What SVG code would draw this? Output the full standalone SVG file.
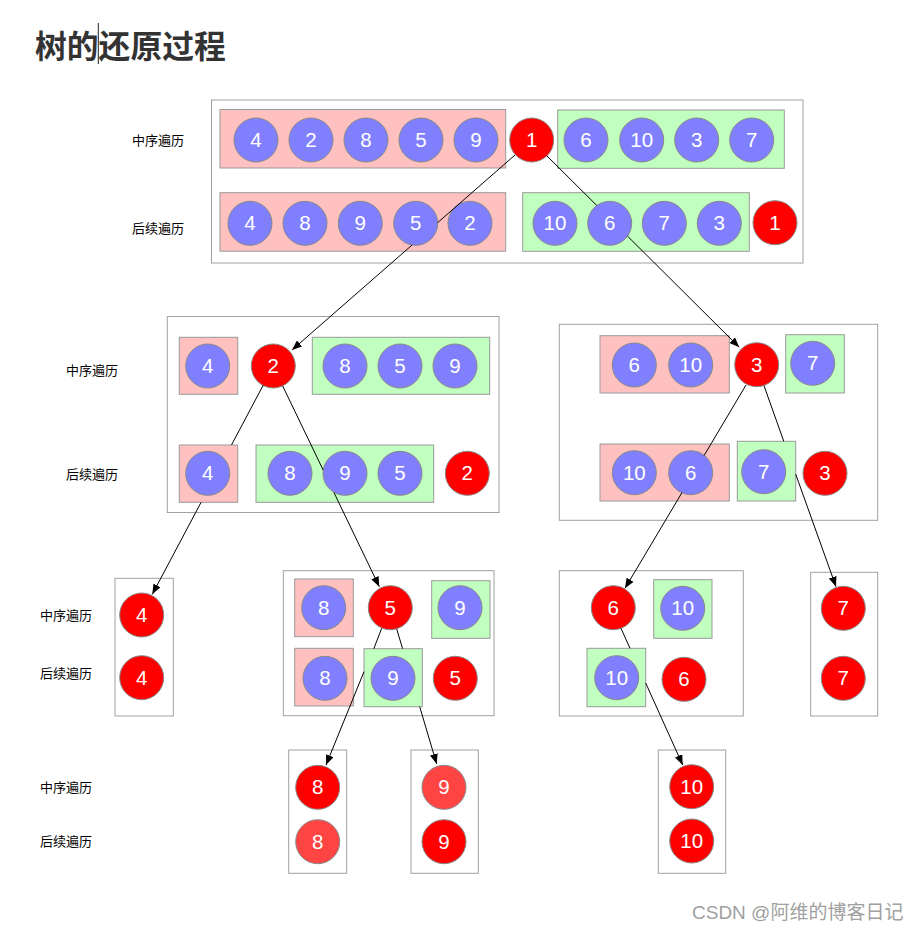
<svg xmlns="http://www.w3.org/2000/svg" width="919" height="933" viewBox="0 0 919 933">
<style>
.box{fill:none;stroke:#a0a0a0;stroke-width:1}
.pk{fill:#ffc0c0;stroke:#999;stroke-width:1}
.gr{fill:#c0ffc0;stroke:#999;stroke-width:1}
.cp{fill:#8080ff;stroke:#888;stroke-width:1}
.cr{fill:#ff0000;stroke:#888;stroke-width:1}
.cl{fill:#ff4444;stroke:#888;stroke-width:1}
.n{font-family:"Liberation Sans",Arial,sans-serif;font-size:20.5px;fill:#fff;text-anchor:middle}
.lb{font-family:"Noto Sans CJK SC","Noto Sans",sans-serif;font-size:13px;fill:#000}
.cn{fill:none;stroke:#000;stroke-width:1}
</style>
<defs>
<marker id="ah" markerUnits="userSpaceOnUse" markerWidth="10" markerHeight="8" refX="10" refY="4" orient="auto">
<path d="M0,0 L10,4 L0,8 z" fill="#000"/>
</marker>
</defs>
<rect width="919" height="933" fill="#fff"/>
<g id="title">
<text x="35" y="57.5" font-family="'Noto Sans CJK SC',sans-serif" font-size="31.8" font-weight="bold" fill="#333">树的还原过程</text>
<line x1="98.3" y1="23" x2="98.3" y2="64" stroke="#222" stroke-width="1"/>
</g>
<g id="labels">
<text class="lb" x="132" y="145">中序遍历</text>
<text class="lb" x="132" y="233">后续遍历</text>
<text class="lb" x="66" y="375">中序遍历</text>
<text class="lb" x="66" y="479">后续遍历</text>
<text class="lb" x="40" y="620">中序遍历</text>
<text class="lb" x="40" y="678">后续遍历</text>
<text class="lb" x="40" y="792">中序遍历</text>
<text class="lb" x="40" y="846">后续遍历</text>
</g>
<g id="node1">
<rect class="box" x="211.5" y="100" width="591.5" height="163"/>
<rect class="pk" x="220" y="109.5" width="285.7" height="58.5"/>
<rect class="gr" x="557.7" y="110" width="226.6" height="58.3"/>
<rect class="pk" x="220" y="192.7" width="285.7" height="58.5"/>
<rect class="gr" x="522.7" y="192.7" width="226.6" height="58.6"/>
<circle class="cp" cx="256" cy="140" r="22"/><text class="n" x="256" y="147">4</text>
<circle class="cp" cx="311" cy="140" r="22"/><text class="n" x="311" y="147">2</text>
<circle class="cp" cx="366" cy="140" r="22"/><text class="n" x="366" y="147">8</text>
<circle class="cp" cx="421" cy="140" r="22"/><text class="n" x="421" y="147">5</text>
<circle class="cp" cx="476" cy="140" r="22"/><text class="n" x="476" y="147">9</text>
<circle class="cr" cx="531.7" cy="140" r="22"/><text class="n" x="531.7" y="147">1</text>
<circle class="cp" cx="586" cy="140" r="22"/><text class="n" x="586" y="147">6</text>
<circle class="cp" cx="641.7" cy="140" r="22"/><text class="n" x="641.7" y="147">10</text>
<circle class="cp" cx="696.7" cy="140" r="22"/><text class="n" x="696.7" y="147">3</text>
<circle class="cp" cx="751.7" cy="140" r="22"/><text class="n" x="751.7" y="147">7</text>
<circle class="cp" cx="250" cy="223.3" r="22"/><text class="n" x="250" y="230.3">4</text>
<circle class="cp" cx="305" cy="223.3" r="22"/><text class="n" x="305" y="230.3">8</text>
<circle class="cp" cx="360.3" cy="223.3" r="22"/><text class="n" x="360.3" y="230.3">9</text>
<circle class="cp" cx="415.7" cy="223.3" r="22"/><text class="n" x="415.7" y="230.3">5</text>
<circle class="cp" cx="470" cy="223.3" r="22"/><text class="n" x="470" y="230.3">2</text>
<circle class="cp" cx="555" cy="223.3" r="22"/><text class="n" x="555" y="230.3">10</text>
<circle class="cp" cx="609.7" cy="223.3" r="22"/><text class="n" x="609.7" y="230.3">6</text>
<circle class="cp" cx="664.3" cy="223.3" r="22"/><text class="n" x="664.3" y="230.3">7</text>
<circle class="cp" cx="719.3" cy="223.3" r="22"/><text class="n" x="719.3" y="230.3">3</text>
<circle class="cr" cx="775" cy="222.7" r="22"/><text class="n" x="775" y="229.7">1</text>
</g>
<g id="node2">
<rect class="box" x="167.3" y="316.5" width="331.7" height="196"/>
<rect class="pk" x="179.3" y="337.3" width="58.4" height="57"/>
<rect class="gr" x="312.3" y="337.3" width="177.4" height="57"/>
<rect class="pk" x="179.3" y="445" width="58.4" height="57.3"/>
<rect class="gr" x="256" y="445" width="177.7" height="57.3"/>
<circle class="cp" cx="207.7" cy="366" r="22"/><text class="n" x="207.7" y="373">4</text>
<circle class="cr" cx="273.3" cy="366" r="22"/><text class="n" x="273.3" y="373">2</text>
<circle class="cp" cx="345" cy="366" r="22"/><text class="n" x="345" y="373">8</text>
<circle class="cp" cx="400" cy="366" r="22"/><text class="n" x="400" y="373">5</text>
<circle class="cp" cx="455" cy="366" r="22"/><text class="n" x="455" y="373">9</text>
<circle class="cp" cx="207.7" cy="473.3" r="22"/><text class="n" x="207.7" y="480.3">4</text>
<circle class="cp" cx="290" cy="473.3" r="22"/><text class="n" x="290" y="480.3">8</text>
<circle class="cp" cx="345" cy="473.3" r="22"/><text class="n" x="345" y="480.3">9</text>
<circle class="cp" cx="400" cy="473.3" r="22"/><text class="n" x="400" y="480.3">5</text>
<circle class="cr" cx="467.3" cy="473.3" r="22"/><text class="n" x="467.3" y="480.3">2</text>
</g>
<g id="node3">
<rect class="box" x="559.3" y="324.3" width="318.4" height="196"/>
<rect class="pk" x="600" y="335.7" width="129.3" height="57.3"/>
<rect class="gr" x="785.7" y="334.7" width="58.6" height="58.3"/>
<rect class="pk" x="600" y="444" width="129.3" height="57"/>
<rect class="gr" x="737.3" y="441.3" width="58.4" height="59.7"/>
<circle class="cp" cx="634.3" cy="365" r="22"/><text class="n" x="634.3" y="372">6</text>
<circle class="cp" cx="690.7" cy="365" r="22"/><text class="n" x="690.7" y="372">10</text>
<circle class="cr" cx="756.7" cy="364.7" r="22"/><text class="n" x="756.7" y="371.7">3</text>
<circle class="cp" cx="812.7" cy="363.3" r="22"/><text class="n" x="812.7" y="370.3">7</text>
<circle class="cp" cx="634.3" cy="472.7" r="22"/><text class="n" x="634.3" y="479.7">10</text>
<circle class="cp" cx="690.7" cy="472.7" r="22"/><text class="n" x="690.7" y="479.7">6</text>
<circle class="cp" cx="763.7" cy="471.7" r="22"/><text class="n" x="763.7" y="478.7">7</text>
<circle class="cr" cx="825" cy="473.3" r="22"/><text class="n" x="825" y="480.3">3</text>
</g>
<g id="node4">
<rect class="box" x="115" y="578.3" width="58.3" height="137.7"/>
<circle class="cr" cx="141.7" cy="615" r="22"/><text class="n" x="141.7" y="622">4</text>
<circle class="cr" cx="141.7" cy="677.7" r="22"/><text class="n" x="141.7" y="684.7">4</text>
</g>
<g id="node5">
<rect class="box" x="283.3" y="570.7" width="210.7" height="145"/>
<rect class="pk" x="294.7" y="579" width="58.6" height="57.7"/>
<rect class="gr" x="431.7" y="580.7" width="58.3" height="57.6"/>
<rect class="pk" x="294.7" y="648.3" width="58.6" height="57.7"/>
<rect class="gr" x="364" y="648.7" width="58.3" height="58"/>
<circle class="cp" cx="323.7" cy="607.7" r="22"/><text class="n" x="323.7" y="614.7">8</text>
<circle class="cr" cx="390.3" cy="607.7" r="22"/><text class="n" x="390.3" y="614.7">5</text>
<circle class="cp" cx="460" cy="607.7" r="22"/><text class="n" x="460" y="614.7">9</text>
<circle class="cp" cx="325" cy="678.3" r="22"/><text class="n" x="325" y="685.3">8</text>
<circle class="cp" cx="393" cy="678.3" r="22"/><text class="n" x="393" y="685.3">9</text>
<circle class="cr" cx="455.3" cy="678.3" r="22"/><text class="n" x="455.3" y="685.3">5</text>
</g>
<g id="node6">
<rect class="box" x="559.3" y="570.7" width="184" height="145.3"/>
<rect class="gr" x="653.7" y="579.7" width="58.3" height="58.6"/>
<rect class="gr" x="587" y="648.3" width="58.7" height="58.4"/>
<circle class="cr" cx="613.3" cy="607.7" r="22"/><text class="n" x="613.3" y="614.7">6</text>
<circle class="cp" cx="682.7" cy="608.3" r="22"/><text class="n" x="682.7" y="615.3">10</text>
<circle class="cp" cx="616.7" cy="677.7" r="22"/><text class="n" x="616.7" y="684.7">10</text>
<circle class="cr" cx="684" cy="679.3" r="22"/><text class="n" x="684" y="686.3">6</text>
</g>
<g id="node7">
<rect class="box" x="810.7" y="572.3" width="67" height="143.7"/>
<circle class="cr" cx="843.3" cy="608.3" r="22"/><text class="n" x="843.3" y="615.3">7</text>
<circle class="cr" cx="843.3" cy="678.3" r="22"/><text class="n" x="843.3" y="685.3">7</text>
</g>
<g id="node8">
<rect class="box" x="288.7" y="750" width="58" height="123.3"/>
<circle class="cr" cx="317.7" cy="787.3" r="22"/><text class="n" x="317.7" y="794.3">8</text>
<circle class="cl" cx="317.7" cy="841.7" r="22"/><text class="n" x="317.7" y="848.7">8</text>
</g>
<g id="node9">
<rect class="box" x="411" y="750" width="67.3" height="123.3"/>
<circle class="cl" cx="444" cy="787.3" r="22"/><text class="n" x="444" y="794.3">9</text>
<circle class="cr" cx="444" cy="841.7" r="22"/><text class="n" x="444" y="848.7">9</text>
</g>
<g id="node10">
<rect class="box" x="658.3" y="750" width="67.4" height="123.3"/>
<circle class="cr" cx="691.7" cy="786.7" r="22"/><text class="n" x="691.7" y="793.7">10</text>
<circle class="cr" cx="691.7" cy="841" r="22"/><text class="n" x="691.7" y="848">10</text>
</g>
<g id="connectors">
<path class="cn" d="M515,155 L437.6,222.7 M412.2,244.9 L292,350" marker-end="url(#ah)"/>
<path class="cn" d="M546.7,155.7 L596.8,205.5 M627.5,236.1 L739.3,347.3" marker-end="url(#ah)"/>
<path class="cn" d="M263.3,385 L231.5,445 M201.1,502.3 L152.3,594.3" marker-end="url(#ah)"/>
<path class="cn" d="M282.7,386 L323.2,470.1 M333.9,492.4 L379.3,586.7" marker-end="url(#ah)"/>
<path class="cn" d="M746,385 L704.1,455.5 M682,492.6 L625,588.3" marker-end="url(#ah)"/>
<path class="cn" d="M764,385.7 L783.8,441.3 M795.7,474.2 L836,586.7" marker-end="url(#ah)"/>
<path class="cn" d="M381.7,628.3 L373.8,648.7 M364,671.7 L326,765" marker-end="url(#ah)"/>
<path class="cn" d="M396.7,629 L402.6,648.7 M419.7,706.7 L436.7,764" marker-end="url(#ah)"/>
<path class="cn" d="M621,628.3 L630,648.3 M645.7,683 L682.7,765" marker-end="url(#ah)"/>
</g>
<text x="692" y="919" font-family="'Liberation Sans','Noto Sans CJK SC',sans-serif" font-size="19" fill="#a0a0a0">CSDN @阿维的博客日记</text>
</svg>
